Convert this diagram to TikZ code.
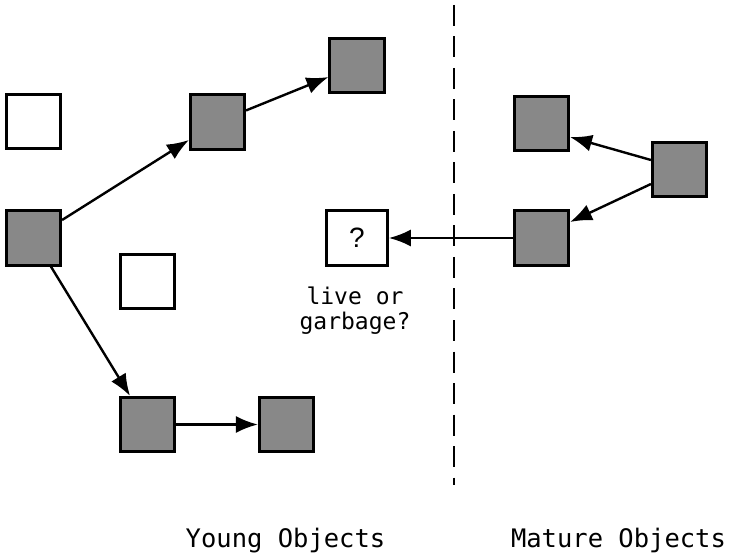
\documentclass[tikz,border=0pt]{standalone}
\usepackage{fontspec}
\setmonofont{DejaVu Sans Mono}
\setsansfont{Liberation Sans}
\usetikzlibrary{arrows.meta}
\definecolor{objgray}{RGB}{136,136,136}
\tikzset{
    obj/.style={shape=rectangle, draw=black, line width=2.6pt, minimum size=54.5pt, inner sep=0pt},
    liveobj/.style={obj, fill=objgray},
    freeobj/.style={obj, fill=white},
    ref/.style={-{Latex[length=22pt,width=17pt]}, line width=2.4pt},
    caption/.style={font=\ttfamily\fontsize{25.5}{30}\selectfont, anchor=base, inner sep=0pt}
}

\begin{document}
\begin{tikzpicture}[x=1pt, y=-1pt]

            \useasboundingbox (0,0) rectangle (748,559);

            % young generation
            \node[freeobj] (A) at (33.5,121.5) {};
            \node[liveobj] (L) at (33.5,238) {};
            \node[liveobj] (B) at (217.5,122) {};
            \node[liveobj] (C) at (357,65.5) {};
            \node[freeobj] (W) at (147.5,281.5) {};
            \node[liveobj] (D) at (147.5,424.5) {};
            \node[liveobj] (E) at (286.5,424.5) {};
            \node[freeobj, minimum width=61pt, font=\sffamily\fontsize{28}{32}\selectfont] (Q) at (357,238) {?};
            \node[font=\ttfamily\fontsize{23}{25}\selectfont, align=center, inner sep=0pt] (note) at (355,311) {live or\\garbage?};

            % mature generation
            \node[liveobj] (F) at (541.5,123.5) {};
            \node[liveobj] (G) at (679.5,169.5) {};
            \node[liveobj] (H) at (541.5,238) {};

            % boundary
            \coordinate (top) at (454,5);
            \coordinate (bot) at (454,485);
            \draw[line width=2.6pt, dash pattern=on 21pt off 10.5pt] (top) -- (bot);

            \draw[ref] (L) -- (B);
            \draw[ref] (B) -- (C);
            \draw[ref] (L) -- (D);
            \draw[ref] (D) -- (E);
            \draw[ref] (H) -- (Q);
            \draw[ref] ([yshift=9.5pt]G.west) -- ([yshift=-13.5pt]F.east);
            \draw[ref] ([yshift=-14.5pt]G.west) -- ([yshift=16pt]H.east);

            \node[caption] (young) at (285.5,547) {Young Objects};
            \node[caption] (mature) at (618.5,547) {Mature Objects};

        \end{tikzpicture}
\end{document}
